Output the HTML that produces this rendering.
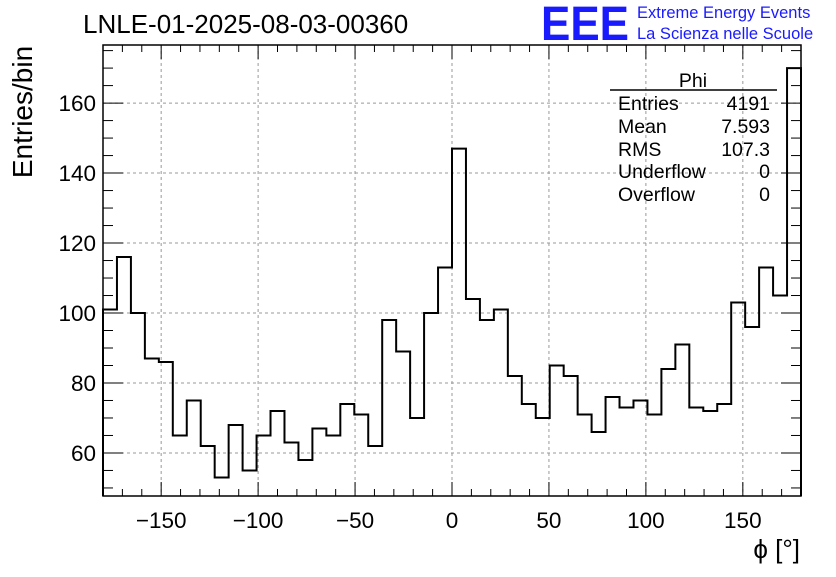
<!DOCTYPE html>
<html><head><meta charset="utf-8"><style>
body{margin:0;background:#fff;}
svg text{font-family:"Liberation Sans",sans-serif;}
</style></head><body>
<svg id="c" width="836" height="572" xmlns="http://www.w3.org/2000/svg">
<text x="83" y="33" font-size="26">LNLE-01-2025-08-03-00360</text>
<text x="541" y="40" font-size="48" fill="#1a1aff" font-weight="bold" textLength="88" lengthAdjust="spacingAndGlyphs">EEE</text>
<text x="637" y="18" font-size="16.5" fill="#1a1aff">Extreme Energy Events</text>
<text x="637" y="39" font-size="16.5" fill="#1a1aff">La Scienza nelle Scuole</text>
<text transform="translate(32,112) rotate(-90)" text-anchor="middle" font-size="28">Entries/bin</text>
<text x="800" y="558" text-anchor="end" font-size="26">ϕ [°]</text>
<g id="grid"></g><g id="ticks"></g><g id="labels"></g>
<path id="hist" fill="none" stroke="#000" stroke-width="2"/>
<rect x="103" y="45" width="698" height="451" fill="none" stroke="#000" stroke-width="1.5"/>
<g font-size="19.5">
<text x="693" y="87" text-anchor="middle">Phi</text>
<line x1="610" y1="90" x2="777" y2="90" stroke="#000" stroke-width="1.5"/>
<text x="618" y="110">Entries</text><text x="770" y="110" text-anchor="end">4191</text>
<text x="618" y="133">Mean</text><text x="770" y="133" text-anchor="end">7.593</text>
<text x="618" y="156">RMS</text><text x="770" y="156" text-anchor="end">107.3</text>
<text x="618" y="178">Underflow</text><text x="770" y="178" text-anchor="end">0</text>
<text x="618" y="201">Overflow</text><text x="770" y="201" text-anchor="end">0</text>
</g>
</svg>
<script>
const counts=[101,116,100,87,86,65,75,62,53,68,55,65,72,63,58,67,65,74,71,62,98,89,70,100,113,147,104,98,101,82,74,70,85,82,71,66,76,73,75,71,84,91,73,72,74,103,96,113,105,170];
const xTicks=[-150,-100,-50,0,50,100,150];
const yTicks=[60,80,100,120,140,160];
const xMin=-180,xMax=180,yMin=47.7,yMax=176.6;
const X0=103,X1=801,Y0=496,Y1=45;
const sx=v=>X0+(v-xMin)/(xMax-xMin)*(X1-X0);
const sy=v=>Y0-(v-yMin)/(yMax-yMin)*(Y0-Y1);
const NS="http://www.w3.org/2000/svg";
function mk(t,a,p){const e=document.createElementNS(NS,t);for(const k in a)e.setAttribute(k,a[k]);document.getElementById(p).appendChild(e);return e;}
const w=(xMax-xMin)/counts.length;
let d=`M${sx(xMin)},${Y0}`;
counts.forEach((c,i)=>{d+=`L${sx(xMin+i*w)},${sy(c)}L${sx(xMin+(i+1)*w)},${sy(c)}`;});
d+=`L${sx(xMax)},${Y0}`;
document.getElementById('hist').setAttribute('d',d);
xTicks.forEach(v=>{
 const x=sx(v);
 const g=mk('line',{x1:x,x2:x,y1:Y1,y2:Y0,stroke:'#999','stroke-dasharray':'3,3','stroke-width':1},'grid');
 
 
 const t=mk('text',{x:x,y:528,'text-anchor':'middle','font-size':22.5},'labels');
 t.textContent=v<0?'\u2212'+(-v):v;
 
 
});
yTicks.forEach(v=>{
 const y=sy(v);
 const g=mk('line',{x1:X0,x2:X1,y1:y,y2:y,stroke:'#999','stroke-dasharray':'3,3','stroke-width':1},'grid');
 
 
 const t=mk('text',{x:96,y:y+8,'text-anchor':'end','font-size':22.5},'labels');
 t.textContent=v;
 
 
});
for(let v=-180;v<=180;v+=10){
 const x=sx(v),L=(v%50===0)?14:7;
 const a=mk('line',{x1:x,x2:x,y1:Y0,y2:Y0-L,stroke:'#000'},'ticks');
 
 
 const b=mk('line',{x1:x,x2:x,y1:Y1,y2:Y1+L,stroke:'#000'},'ticks');
 
 
}
for(let v=50;v<=175;v+=5){
 const y=sy(v),L=(v%20===0)?20:10;
 const a=mk('line',{x1:X0,x2:X0+L,y1:y,y2:y,stroke:'#000'},'ticks');
 
 
 const b=mk('line',{x1:X1,x2:X1-L,y1:y,y2:y,stroke:'#000'},'ticks');
 
 
}
</script>
</body></html>
